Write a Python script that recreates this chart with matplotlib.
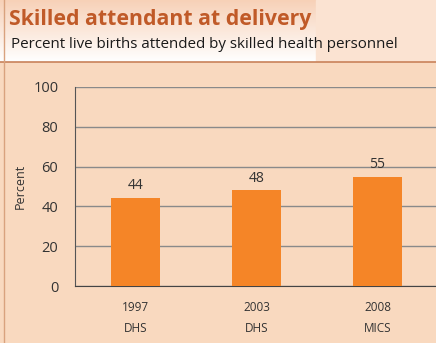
import matplotlib.pyplot as plt
import numpy as np
from matplotlib.patches import Rectangle

# Survey data
years = ["1997", "2003", "2008"]
sources = ["DHS", "DHS", "MICS"]
percent = [44, 48, 55]
yticks = [0, 20, 40, 60, 80, 100]

peach = "#f9d9bf"
orange = "#f58527"
text_dark = "#333333"

plt.rcParams['font.family'] = ['Open Sans', 'DejaVu Sans']

fig = plt.figure(figsize=(4.36, 3.43), dpi=100)
fig.patch.set_facecolor(peach)

# Header band with a soft vertical gradient
hdr = fig.add_axes([0, 1 - 62 / 343, 1, 62 / 343], zorder=0)
grad = np.linspace(0, 1, 100).reshape(-1, 1)
c_top = np.array([0.97, 0.82, 0.72])
c_bot = np.array([1.0, 1.0, 1.0])
img = c_top[None, None, :] * (1 - grad[:, :, None]) + c_bot[None, None, :] * grad[:, :, None]
img = np.repeat(img, 2, axis=1)
hdr.imshow(img, aspect="auto", extent=[0, 316, 62, 0])
hdr.add_patch(Rectangle((316, 0), 120, 62, color="#fbe3d2", zorder=0))
hdr.set_xlim(0, 436)
hdr.set_ylim(62, 0)
hdr.axis("off")
hdr.text(9, 19, "Skilled attendant at delivery", fontsize=15.3, fontweight="bold",
         color="#c05a28", va="center", ha="left")
hdr.text(11, 44, "Percent live births attended by skilled health personnel", fontsize=10.9,
         color="#1a1a1a", va="center", ha="left")

# Frame lines
fig.add_artist(plt.Line2D([0, 1], [1 - 62 / 343] * 2, color="#c9825a", lw=1.2))
fig.add_artist(plt.Line2D([4 / 436] * 2, [0, 1], color="#d9a27e", lw=1.0))

ax = fig.add_axes([75 / 436, 1 - 286 / 343, 363 / 436, 199 / 343], zorder=2)
ax.set_facecolor(peach)
x = np.arange(len(years))
bars = ax.bar(x, percent, width=0.4, color=orange, zorder=3)
for xi, v in zip(x, percent):
    ax.text(xi, v + 2.5, str(v), ha="center", va="bottom", fontsize=10, color=text_dark)

ax.set_xlim(-0.5, 2.5)
ax.set_ylim(0, 100)
ax.set_yticks(yticks)
ax.yaxis.grid(True, color="#8a8a8a", lw=1.0, zorder=1)
ax.set_xticks(x)
ax.set_xticklabels([f"{y}\n{s}" for y, s in zip(years, sources)], fontsize=8.5,
                   color=text_dark, linespacing=1.75)
ax.tick_params(axis="x", length=0, pad=11)
ax.tick_params(axis="y", length=0, pad=12, labelsize=10.5, colors=text_dark)
for s in ["top", "right"]:
    ax.spines[s].set_visible(False)
ax.spines["left"].set_color("#555555")
ax.spines["bottom"].set_color("#444444")
ax.set_ylabel("Percent", fontsize=9, color=text_dark, labelpad=5)

fig.savefig("out.png", dpi=100, facecolor=fig.get_facecolor())
